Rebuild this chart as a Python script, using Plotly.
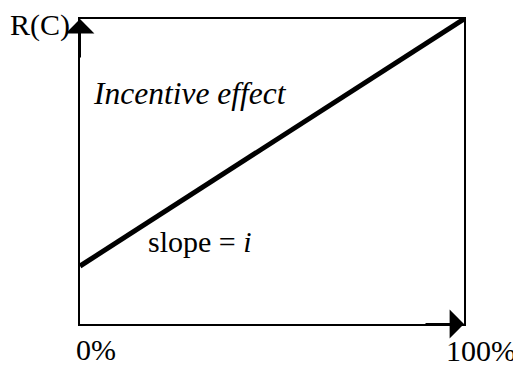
import plotly.graph_objects as go

# Data
share_pct = [0, 100]          # x: 0% .. 100%
r_values = [0.19, 1.0]        # R(C) along the line
x_tick_labels = ["0%", "100%"]
y_label = "R(C)"
effect_label = "Incentive effect"
slope_label = "slope = <i>i</i>"

FONT = "Liberation Serif"

fig = go.Figure()
fig.add_trace(go.Scatter(
    x=share_pct, y=r_values, mode="lines",
    line=dict(color="black", width=5),
    hoverinfo="skip", showlegend=False, cliponaxis=False,
))

axis_common = dict(
    showgrid=False, zeroline=False, showticklabels=False, ticks="",
    showline=True, linecolor="black", linewidth=2, mirror=True,
    fixedrange=True,
)
fig.update_xaxes(range=[0, 100], **axis_common)
fig.update_yaxes(range=[0, 1], **axis_common)

annotations = []
# arrowheads on the axes
annotations.append(dict(x=0, y=1, xref="x", yref="y", ax=0, ay=40, text="",
                        showarrow=True, arrowhead=1, arrowsize=2.4, arrowwidth=2,
                        arrowcolor="black"))
annotations.append(dict(x=100, y=0, xref="x", yref="y", ax=-40, ay=0, text="",
                        showarrow=True, arrowhead=1, arrowsize=2.4, arrowwidth=2,
                        arrowcolor="black"))
# labels (paper coords relative to plot area)
def px_x(p):
    return (p - 80) / 384.0

def px_y(p):
    return (324 - p) / 307.0

annotations.append(dict(x=px_x(72), y=px_y(23), xref="paper", yref="paper", text=y_label,
                        showarrow=False, xanchor="right", yanchor="middle",
                        font=dict(family=FONT, size=30, color="black")))
annotations.append(dict(x=px_x(91), y=px_y(92), xref="paper", yref="paper",
                        text="<i>" + effect_label + "</i>",
                        showarrow=False, xanchor="left", yanchor="middle",
                        font=dict(family=FONT, size=31.5, color="black")))
annotations.append(dict(x=px_x(146), y=px_y(241), xref="paper", yref="paper", text=slope_label,
                        showarrow=False, xanchor="left", yanchor="middle",
                        font=dict(family=FONT, size=30, color="black")))
annotations.append(dict(x=px_x(96), y=px_y(350), xref="paper", yref="paper", text=x_tick_labels[0],
                        showarrow=False, xanchor="center", yanchor="middle",
                        font=dict(family=FONT, size=30, color="black")))
annotations.append(dict(x=px_x(481), y=px_y(351), xref="paper", yref="paper", text=x_tick_labels[1],
                        showarrow=False, xanchor="center", yanchor="middle",
                        font=dict(family=FONT, size=30, color="black")))

# page has an 8px body margin, so the figure is offset by 8px
fig.update_layout(
    width=513, height=359, autosize=False,
    margin=dict(l=72, r=57, t=9, b=43),
    paper_bgcolor="white", plot_bgcolor="white",
    annotations=annotations,
)

fig.write_html("out.html")
